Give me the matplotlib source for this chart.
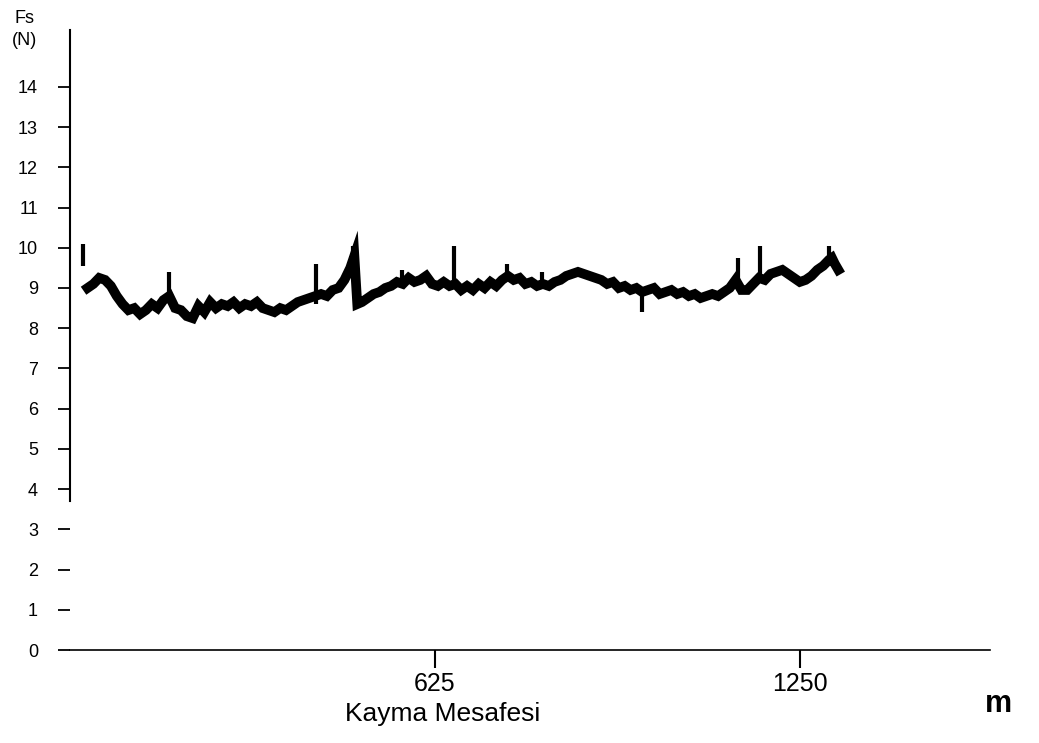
import matplotlib
matplotlib.use("Agg")
import matplotlib.pyplot as plt

plt.rcParams['font.family'] = ['Liberation Sans', 'DejaVu Sans']

# sliding distance (m) and friction force (N)
distance = [30, 40, 50, 60, 70, 80, 90, 100, 110, 120, 130, 140, 150, 160, 170,
            180, 190, 200, 210, 220, 230, 240, 250, 260, 270, 280, 290, 300, 310,
            320, 330, 340, 350, 360, 370, 380, 390, 400, 410, 420, 430, 440, 450,
            460, 470, 480, 487, 492, 500, 510, 520, 530, 540, 550, 560, 570, 580,
            590, 600, 610, 620, 630, 640, 650, 660, 670, 680, 690, 700, 710, 720,
            730, 740, 750, 760, 770, 780, 790, 800, 810, 820, 830, 840, 850, 860,
            870, 880, 890, 900, 910, 920, 930, 940, 950, 960, 970, 980, 990, 1000,
            1010, 1020, 1030, 1040, 1050, 1060, 1070, 1080, 1090, 1100, 1110, 1120,
            1130, 1140, 1150, 1160, 1170, 1180, 1190, 1200, 1210, 1220, 1230, 1240,
            1250, 1260, 1270, 1280, 1290, 1300, 1305, 1310, 1316]
force = [9.0, 9.1, 9.25, 9.2, 9.05, 8.8, 8.6, 8.45, 8.5, 8.35, 8.45, 8.6, 8.5, 8.7, 8.8,
         8.5, 8.45, 8.3, 8.25, 8.55, 8.4, 8.65, 8.5, 8.6, 8.55, 8.65, 8.5, 8.6, 8.55,
         8.65, 8.5, 8.45, 8.4, 8.5, 8.45, 8.55, 8.65, 8.7, 8.75, 8.8, 8.85, 8.8, 8.95,
         9.0, 9.2, 9.5, 9.8, 8.6, 8.65, 8.75, 8.85, 8.9, 9.0, 9.05, 9.15, 9.1, 9.25,
         9.15, 9.2, 9.3, 9.1, 9.05, 9.15, 9.05, 9.1, 8.95, 9.05, 8.95, 9.1, 9.0, 9.15,
         9.05, 9.2, 9.3, 9.2, 9.25, 9.1, 9.15, 9.05, 9.1, 9.05, 9.15, 9.2, 9.3, 9.35,
         9.4, 9.35, 9.3, 9.25, 9.2, 9.1, 9.15, 9.0, 9.05, 8.95, 9.0, 8.9, 8.95, 9.0,
         8.85, 8.9, 8.95, 8.85, 8.9, 8.8, 8.85, 8.75, 8.8, 8.85, 8.8, 8.9,
         9.0, 9.2, 8.95, 8.95, 9.1, 9.25, 9.2, 9.35, 9.4, 9.45, 9.35, 9.25,
         9.15, 9.2, 9.3, 9.45, 9.55, 9.7, 9.75, 9.6, 9.45]

# short vertical spikes: position, low and high force
spike_x = [22, 169, 421, 485, 568, 657, 748, 808, 980, 1144, 1182, 1300]
spike_lo = [9.55, 8.8, 8.6, 9.4, 9.1, 9.0, 9.2, 9.1, 8.4, 9.1, 9.2, 9.6]
spike_hi = [10.1, 9.4, 9.6, 10.05, 9.45, 10.05, 9.6, 9.4, 8.9, 9.75, 10.05, 10.05]

y_ticks = list(range(0, 15))
x_ticks = [625, 1250]

fig = plt.figure(figsize=(10.39, 7.43), dpi=100)
ax = fig.add_axes([0.0674, 0.125, 0.885, 0.834])

ax.plot(distance, force, color='black', linewidth=7, solid_joinstyle='miter')
ax.vlines(spike_x, spike_lo, spike_hi, color='black', linewidth=3)

ax.set_xlim(0, 1575)
ax.set_ylim(0, 15.4)

ax.spines['top'].set_visible(False)
ax.spines['right'].set_visible(False)
ax.spines['left'].set_linewidth(1.5)
ax.spines['bottom'].set_linewidth(1.2)
ax.spines['left'].set_bounds(3.7, 15.4)

ax.set_yticks(y_ticks)
ax.set_yticklabels([str(v) for v in y_ticks])
ax.tick_params(axis='y', direction='out', length=9, width=1.3, pad=14, labelsize=13)
ax.set_xticks(x_ticks)
ax.set_xticklabels([str(v) for v in x_ticks])
ax.tick_params(axis='x', direction='out', length=13, width=1.5, pad=3, labelsize=18)

ax.set_xlabel('Kayma Mesafesi', fontsize=19)
ax.xaxis.set_label_coords(0.405, -0.083)

fig.text(0.014, 0.975, 'Fs', fontsize=13, ha='left', va='center')
fig.text(0.011, 0.946, '(N)', fontsize=13, ha='left', va='center')
fig.text(0.948, 0.052, 'm', fontsize=22, fontweight='bold', ha='left', va='center')

fig.savefig('out.png', dpi=100, facecolor='white')
